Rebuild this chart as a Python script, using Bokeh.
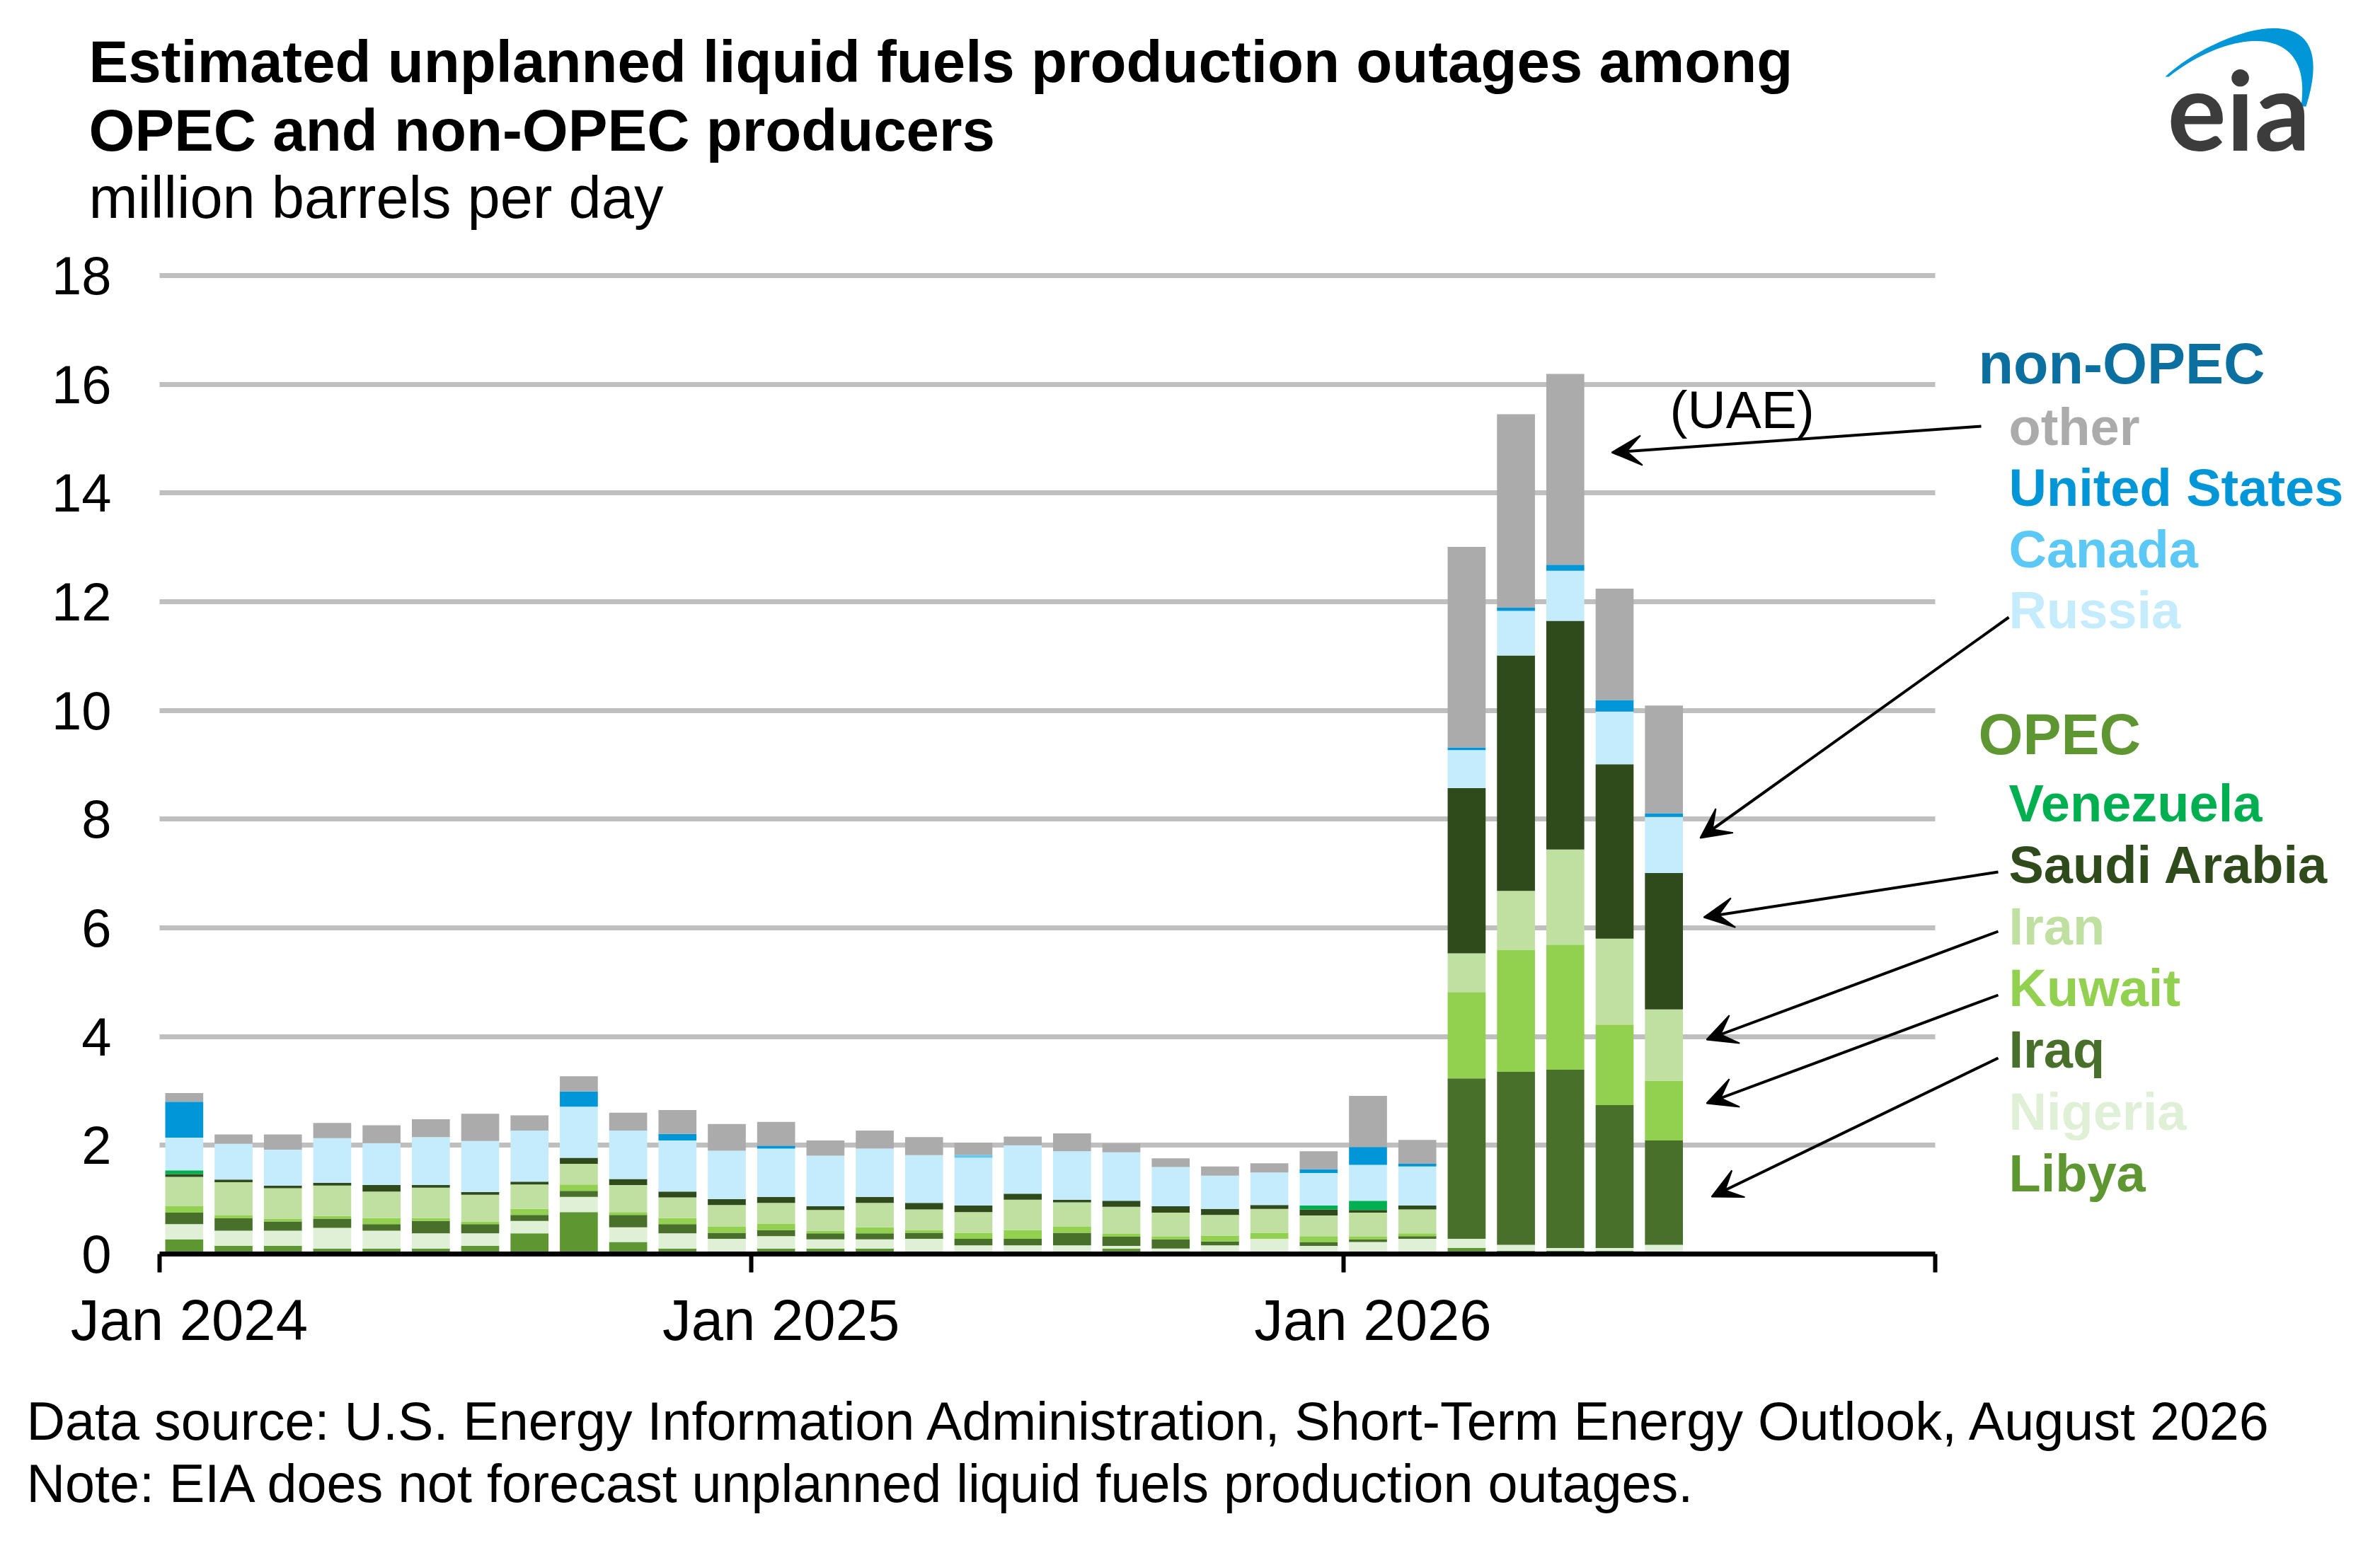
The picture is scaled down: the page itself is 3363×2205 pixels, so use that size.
from bokeh.plotting import figure
from bokeh.models import ColumnDataSource, FixedTicker, Label, Arrow, VeeHead, PolyAnnotation, Range1d
from bokeh.embed import file_html
from bokeh.resources import INLINE

# monthly values, Jan 2024 .. Jul 2026 (million barrels per day)
months = ["Jan 2024", "Feb 2024", "Mar 2024", "Apr 2024", "May 2024", "Jun 2024",
          "Jul 2024", "Aug 2024", "Sep 2024", "Oct 2024", "Nov 2024", "Dec 2024",
          "Jan 2025", "Feb 2025", "Mar 2025", "Apr 2025", "May 2025", "Jun 2025",
          "Jul 2025", "Aug 2025", "Sep 2025", "Oct 2025", "Nov 2025", "Dec 2025",
          "Jan 2026", "Feb 2026", "Mar 2026", "Apr 2026", "May 2026", "Jun 2026",
          "Jul 2026"]

libya = [0.27, 0.15, 0.15, 0.10, 0.10, 0.10, 0.15, 0.38, 0.77, 0.22, 0.10, 0.05,
         0.10, 0.10, 0.10, 0.05, 0.05, 0.05, 0.05, 0.10, 0.05, 0.05, 0.05, 0.00,
         0.05, 0.05, 0.11, 0.06, 0.06, 0.06, 0.00]
nigeria = [0.28, 0.28, 0.28, 0.38, 0.33, 0.28, 0.23, 0.23, 0.28, 0.27, 0.28, 0.23,
           0.23, 0.17, 0.17, 0.23, 0.11, 0.11, 0.11, 0.05, 0.05, 0.11, 0.23, 0.15,
           0.17, 0.23, 0.17, 0.11, 0.05, 0.05, 0.17]
iraq = [0.21, 0.23, 0.17, 0.17, 0.12, 0.23, 0.17, 0.11, 0.11, 0.23, 0.17, 0.11,
        0.11, 0.11, 0.11, 0.11, 0.12, 0.12, 0.23, 0.17, 0.17, 0.07, 0.00, 0.07,
        0.05, 0.05, 2.95, 3.18, 3.28, 2.63, 1.92]
kuwait = [0.12, 0.05, 0.05, 0.05, 0.11, 0.05, 0.05, 0.11, 0.12, 0.05, 0.11, 0.11,
          0.12, 0.05, 0.11, 0.05, 0.11, 0.16, 0.11, 0.05, 0.05, 0.11, 0.11, 0.11,
          0.05, 0.05, 1.59, 2.24, 2.30, 1.48, 1.10]
iran = [0.54, 0.61, 0.56, 0.56, 0.49, 0.56, 0.49, 0.45, 0.38, 0.50, 0.38, 0.40,
        0.38, 0.38, 0.45, 0.38, 0.38, 0.56, 0.45, 0.50, 0.44, 0.38, 0.44, 0.38,
        0.44, 0.44, 0.71, 1.09, 1.75, 1.58, 1.31]
saudi = [0.05, 0.05, 0.05, 0.05, 0.12, 0.05, 0.05, 0.05, 0.11, 0.11, 0.11, 0.11,
         0.11, 0.07, 0.11, 0.12, 0.12, 0.11, 0.05, 0.11, 0.12, 0.11, 0.07, 0.11,
         0.05, 0.07, 3.04, 4.33, 4.21, 3.21, 2.51]
venezuela = [0.07, 0, 0, 0, 0, 0, 0, 0, 0, 0, 0, 0,
             0, 0, 0, 0, 0, 0, 0, 0, 0, 0, 0, 0.07,
             0.17, 0, 0, 0, 0, 0, 0]
russia = [0.60, 0.66, 0.66, 0.82, 0.77, 0.88, 0.94, 0.94, 0.94, 0.89, 0.94, 0.89,
          0.89, 0.93, 0.89, 0.88, 0.88, 0.89, 0.89, 0.89, 0.72, 0.61, 0.60, 0.60,
          0.66, 0.72, 0.70, 0.82, 0.92, 0.97, 1.03]
canada = [0, 0, 0, 0, 0, 0, 0, 0, 0, 0, 0, 0,
          0, 0, 0, 0, 0.05, 0, 0, 0, 0, 0, 0, 0,
          0, 0, 0, 0, 0, 0, 0]
united_states = [0.66, 0, 0, 0, 0, 0, 0, 0, 0.28, 0, 0.12, 0,
                 0.05, 0, 0, 0, 0, 0, 0, 0, 0, 0, 0, 0.07,
                 0.33, 0.05, 0.05, 0.06, 0.11, 0.21, 0.07]
other = [0.16, 0.17, 0.28, 0.28, 0.33, 0.33, 0.50, 0.28, 0.28, 0.33, 0.44, 0.49,
         0.44, 0.28, 0.33, 0.33, 0.23, 0.16, 0.33, 0.16, 0.16, 0.17, 0.17, 0.33,
         0.94, 0.44, 3.69, 3.56, 3.51, 2.05, 1.98]

# stacking order, bottom to top
series = ["Libya", "Nigeria", "Iraq", "Kuwait", "Iran", "Saudi Arabia", "Venezuela",
          "Russia", "Canada", "United States", "other"]
colors = ["#5E9732", "#E0F0D6", "#48702A", "#92D050", "#C0E0A2", "#2F4B1C", "#00AF50",
          "#C5ECFC", "#5BC8F5", "#0096D7", "#ABABAB"]
values = [libya, nigeria, iraq, kuwait, iran, saudi, venezuela,
          russia, canada, united_states, other]

year_ticks = [0, 12, 24, 36]
year_labels = ["Jan 2024", "Jan 2025", "Jan 2026"]
y_ticks = list(range(0, 19, 2))

data = {"x": [i + 0.5 for i in range(len(months))]}
for name, vals in zip(series, values):
    data[name] = vals
src = ColumnDataSource(data)

# plot area in page pixels; the frame covers the whole canvas so the
# title, legend, notes and arrows (all outside the bars) are not clipped
L, R, B, Y18 = 225, 2734, 1772, 389
W, H = 3340, 2180
PXM = (R - L) / 36.0
PYU = (B - Y18) / 18.0


def dx(px):
    return (px - L) / PXM


def dy(py):
    return (B - py) / PYU


FONT = "Liberation Sans"

p = figure(width=W, height=H, min_border=0,
           x_range=Range1d(dx(0), dx(W)), y_range=Range1d(dy(H), dy(0)),
           output_backend="svg", toolbar_location=None)
p.outline_line_color = None
p.background_fill_color = "white"

p.vbar_stack(series, x="x", width=0.77, color=colors, source=src, line_color=None)

# grid
p.xgrid.grid_line_color = None
g = p.ygrid[0]
g.ticker = FixedTicker(ticks=y_ticks)
g.grid_line_color = "#BFBFBF"
g.grid_line_width = 7
if "cross_bounds" in g.properties():
    g.cross_bounds = (0, 36)
else:
    g.grid_line_color = None
    p.segment(x0=0, x1=36, y0=y_ticks, y1=y_ticks, line_color="#BFBFBF",
              line_width=7, level="underlay")

# x axis, pinned at y = 0
xa = p.xaxis[0]
xa.fixed_location = 0
xa.bounds = (0, 36)
xa.ticker = FixedTicker(ticks=[t + 0.6 for t in year_ticks[:3]], minor_ticks=year_ticks)
xa.major_label_overrides = {t + 0.6: lab for t, lab in zip(year_ticks, year_labels)}
xa.major_tick_out = 0
xa.major_tick_in = 0
xa.minor_tick_out = 26
xa.minor_tick_in = 0
xa.minor_tick_line_width = 6
xa.minor_tick_line_color = "black"
xa.axis_line_width = 7
xa.axis_line_color = "black"
xa.major_label_text_font = FONT
xa.major_label_text_font_size = "81.5px"
xa.major_label_text_color = "black"
xa.major_label_standoff = 21

# y axis, pinned at x = 0
ya = p.yaxis[0]
ya.fixed_location = 0
ya.bounds = (0, 18)
ya.ticker = FixedTicker(ticks=y_ticks)
ya.axis_line_color = None
ya.major_tick_line_color = None
ya.minor_tick_line_color = None
ya.major_label_text_font = FONT
ya.major_label_text_font_size = "76px"
ya.major_label_text_color = "black"
ya.major_label_standoff = 62


def text(px, py, s, size, color="black", bold=False, font=FONT, align="left", baseline="middle"):
    p.add_layout(Label(x=dx(px), y=dy(py), text=s, text_font=font, text_font_size=size,
                       text_color=color, text_font_style="bold" if bold else "normal",
                       text_align=align, text_baseline=baseline))


# title block
text(125, 86, "Estimated unplanned liquid fuels production outages among", "83.5px", bold=True)
text(125, 183, "OPEC and non-OPEC producers", "83.5px", bold=True)
text(125, 279, "million barrels per day", "83px")

# footer
text(37, 2008, "Data source: U.S. Energy Information Administration, Short-Term Energy Outlook, August 2026", "75.5px")
text(37, 2096, "Note: EIA does not forecast unplanned liquid fuels production outages.", "75.5px")

# legend labels
color_of = dict(zip(series, colors))
non_opec = ["other", "United States", "Canada", "Russia"]
opec = ["Venezuela", "Saudi Arabia", "Iran", "Kuwait", "Iraq", "Nigeria", "Libya"]
text(2795, 513, "non-OPEC", "81px", color="#0B6FA0", bold=True)
for i, name in enumerate(non_opec):
    text(2838, 603 + i * 86.3, name, "74px", color=color_of[name], bold=True)
text(2795, 1037, "OPEC", "81px", color="#5E9732", bold=True)
for i, name in enumerate(opec):
    text(2838, 1135 + i * 87.1, name, "74px", color=color_of[name], bold=True)

text(2359, 578, "(UAE)", "75px")

# arrows from labels to bars
arrows = [((2799, 602), (2277, 639)),
          ((2838, 872), (2402, 1184)),
          ((2823, 1232), (2407, 1296)),
          ((2823, 1316), (2411, 1469)),
          ((2823, 1406), (2411, 1559)),
          ((2823, 1495), (2418, 1691))]
for (sx0, sy0), (ex, ey) in arrows:
    p.add_layout(Arrow(end=VeeHead(size=42, fill_color="black", line_color="black", line_width=2),
                       x_start=dx(sx0), y_start=dy(sy0), x_end=dx(ex), y_end=dy(ey),
                       line_width=4, line_color="black"))


# eia logo
def bez(p0, c1, c2, p3, n=40):
    pts = []
    for k in range(n + 1):
        t = k / n
        a, b, c, d = (1 - t) ** 3, 3 * (1 - t) ** 2 * t, 3 * (1 - t) * t ** 2, t ** 3
        pts.append((a * p0[0] + b * c1[0] + c * c2[0] + d * p3[0],
                    a * p0[1] + b * c1[1] + c * c2[1] + d * p3[1]))
    return pts


swoosh = bez((3059, 108), (3124, 46), (3314, -26), (3258, 150)) + \
    bez((3251, 150), (3269, 24), (3144, 44), (3064, 108))
p.add_layout(PolyAnnotation(xs=[dx(a) for a, _ in swoosh], ys=[dy(b) for _, b in swoosh],
                            fill_color="#0096D7", fill_alpha=1, line_color=None))
text(3062, 152, "eia", "156px", color="#3C3C3C", bold=True, font="Lato")

open("out.html", "w").write(file_html(p, INLINE))
